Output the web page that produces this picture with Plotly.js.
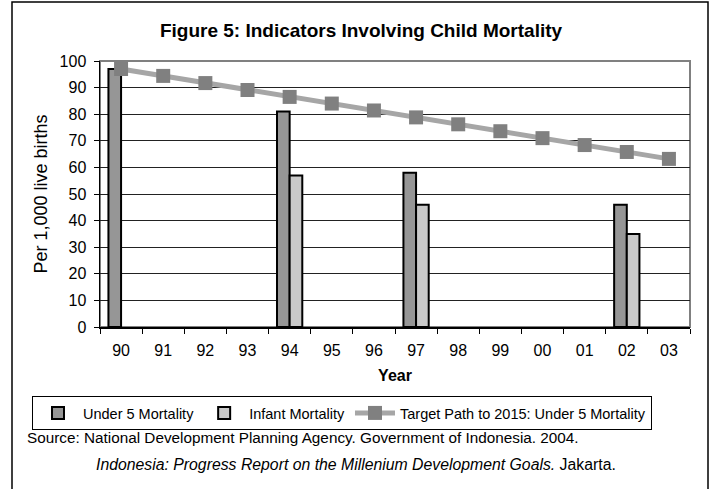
<!DOCTYPE html>
<html>
<head>
<meta charset="utf-8">
<script src="https://cdn.plot.ly/plotly-3.0.1.min.js"></script>
<style>
html,body{margin:0;padding:0;background:#fff;}
#chart{width:710px;height:489px;}
</style>
</head>
<body>
<div id="chart"></div>
<script>
const years = ['90','91','92','93','94','95','96','97','98','99','00','01','02','03'];
const under5 = [97, null, null, null, 81, null, null, 58, null, null, null, null, 46, null];
const infant = [null, null, null, null, 57, null, null, 46, null, null, null, null, 35, null];
const target = [97, 94.4, 91.7, 89.1, 86.5, 84, 81.4, 78.8, 76.2, 73.6, 71, 68.4, 65.8, 63.2];

const FONT = 'Arial, "Liberation Sans", sans-serif';
const L = 100, R = 20, T = 61, B = 162, W = 710, H = 489;
const pw = W - L - R, ph = H - T - B;
const px = x => (x - L) / pw;
const py = y => (H - B - y) / ph;

const traces = [
  {
    type: 'bar', name: 'Under 5 Mortality', x: years, y: under5,
    marker: {color: '#969696', line: {color: '#000', width: 2}}
  },
  {
    type: 'bar', name: 'Infant Mortality', x: years, y: infant,
    marker: {color: '#d9d9d9', line: {color: '#000', width: 2},
             pattern: {shape: '.', fgcolor: '#a8a8a8', bgcolor: '#e4e4e4', size: 2, solidity: 0.5}}
  },
  {
    type: 'scatter', mode: 'lines+markers', name: 'Target Path to 2015: Under 5 Mortality',
    x: years, y: target,
    line: {color: '#a6a6a6', width: 5},
    marker: {symbol: 'square', size: 14, color: '#808080'}
  }
];

const layout = {
  width: W, height: H,
  margin: {l: L, r: R, t: T, b: B, pad: 0},
  paper_bgcolor: '#fff', plot_bgcolor: '#fff',
  font: {family: FONT, size: 16, color: '#000'},
  title: {text: '<b>Figure 5: Indicators Involving Child Mortality</b>',
          font: {family: FONT, size: 19, color: '#000'},
          x: px(361), xref: 'paper', xanchor: 'center', y: 1 - 30 / H, yanchor: 'middle'},
  barmode: 'group', bargap: 0.4, bargroupgap: 0,
  xaxis: {
    type: 'category', tickson: 'boundaries', ticks: 'outside', ticklen: 5, tickcolor: '#000',
    showline: true, linecolor: '#000', linewidth: 1.5, showgrid: false,
    tickfont: {family: FONT, size: 16, color: '#000'}, ticklabelstandoff: 8,
    title: {text: '<b>Year</b>', font: {family: FONT, size: 16, color: '#000'}, standoff: 12},
    range: [-0.5, 13.5]
  },
  yaxis: {
    range: [0, 100], dtick: 10, ticks: 'outside', ticklen: 5, tickcolor: '#000',
    showline: true, linecolor: '#000', linewidth: 1.5,
    showgrid: true, gridcolor: '#222', gridwidth: 1, zeroline: false,
    tickfont: {family: FONT, size: 16, color: '#000'}, ticklabelstandoff: 4,
    title: {text: 'Per 1,000 live births', font: {family: FONT, size: 18, color: '#000'}, standoff: 7}
  },
  showlegend: true,
  legend: {
    orientation: 'h', x: px(32), xanchor: 'left', y: py(396), yanchor: 'top',
    bordercolor: '#000', borderwidth: 1, bgcolor: '#fff',
    font: {family: FONT, size: 14.5, color: '#000'},
    itemwidth: 40, tracegroupgap: 0
  },
  shapes: [
    {type: 'rect', xref: 'paper', yref: 'paper', x0: 0, x1: 1, y0: 0, y1: 1,
     line: {color: '#808080', width: 2}, layer: 'below'},
    {type: 'rect', xref: 'paper', yref: 'paper', x0: px(12), x1: px(708), y0: py(505), y1: py(2),
     line: {color: '#000', width: 1.5}, fillcolor: 'rgba(0,0,0,0)'}
  ],
  annotations: [
    {xref: 'paper', yref: 'paper', x: px(25), y: py(437), xanchor: 'left', yanchor: 'middle',
     showarrow: false, text: 'Source: National Development Planning Agency. Government of Indonesia. 2004.',
     font: {family: FONT, size: 15.3, color: '#000'}},
    {xref: 'paper', yref: 'paper', x: px(94), y: py(464), xanchor: 'left', yanchor: 'middle',
     showarrow: false, text: '<i>Indonesia: Progress Report on the Millenium Development Goals.</i> Jakarta.',
     font: {family: FONT, size: 15.8, color: '#000'}}
  ]
};

Plotly.newPlot('chart', traces, layout, {staticPlot: true, displayModeBar: false});
</script>
</body>
</html>
